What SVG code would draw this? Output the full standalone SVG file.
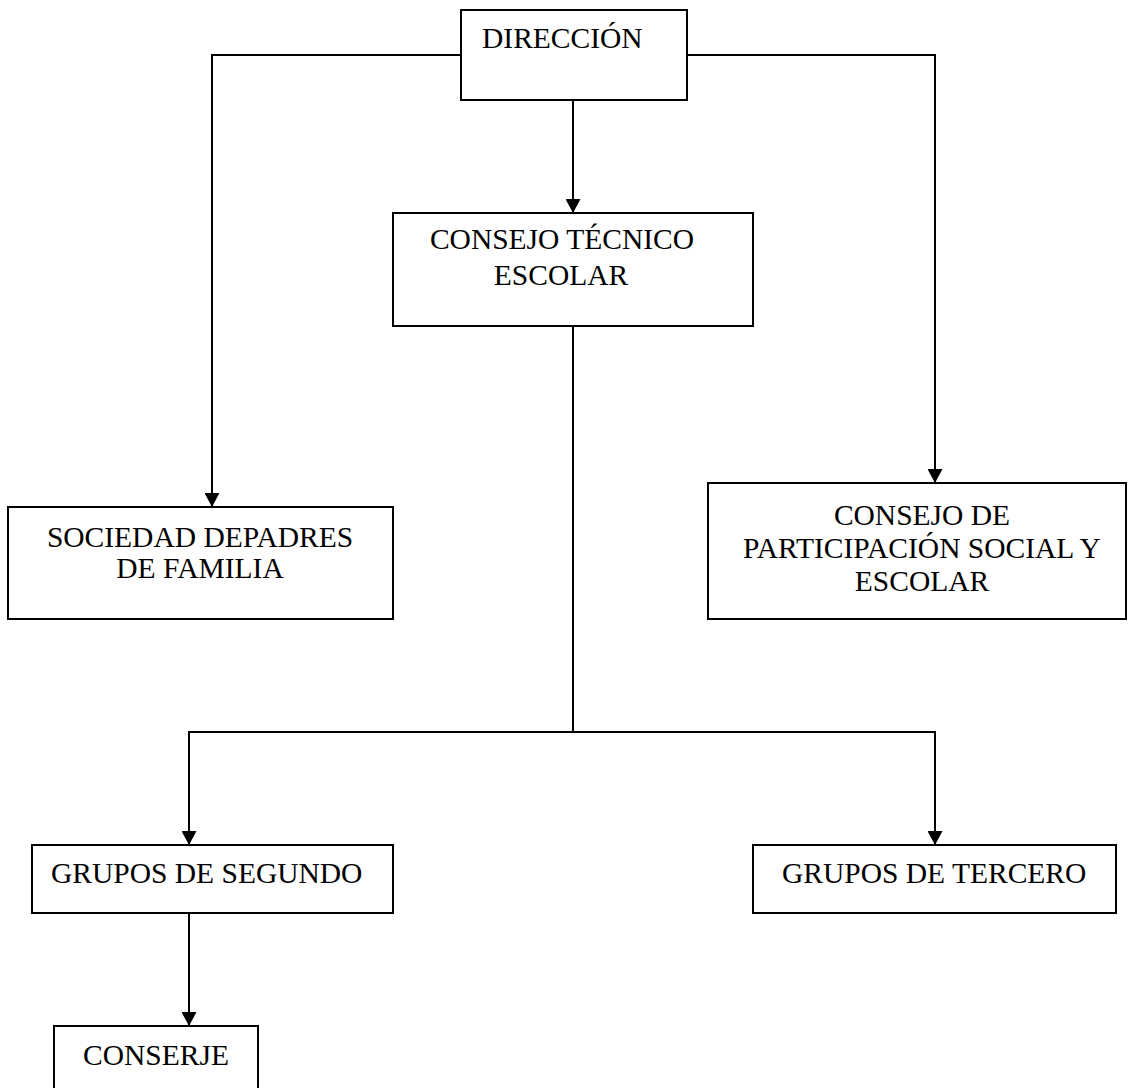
<svg xmlns="http://www.w3.org/2000/svg" width="1128" height="1088" viewBox="0 0 1128 1088">
<style>
  .box{fill:#fff;stroke:#000;stroke-width:2}
  .lbl{font-family:"Liberation Serif","Times New Roman",serif;font-size:29.5px;fill:#000}
  .mid{text-anchor:middle}
  .conn{fill:none;stroke:#000;stroke-width:2}
</style>
<defs>
  <marker id="arr" markerUnits="userSpaceOnUse" markerWidth="15" markerHeight="15" refX="14" refY="7.5" orient="auto">
    <path d="M0,0 L14,7.5 L0,15 z" fill="#000"/>
  </marker>
</defs>
<rect width="1128" height="1088" fill="#fff"/>
<g id="connectors">
  <path class="conn" d="M461,55 H212 V507" marker-end="url(#arr)"/>
  <path class="conn" d="M687,55 H935 V483" marker-end="url(#arr)"/>
  <path class="conn" d="M573,100 V213" marker-end="url(#arr)"/>
  <path class="conn" d="M573,326 V732"/>
  <path class="conn" d="M573,732 H189 V845" marker-end="url(#arr)"/>
  <path class="conn" d="M573,732 H935 V845" marker-end="url(#arr)"/>
  <path class="conn" d="M189,913 V1026" marker-end="url(#arr)"/>
</g>
<g id="direccion">
  <rect class="box" x="461" y="10" width="226" height="90"/>
  <text class="lbl" x="482" y="48">DIRECCIÓN</text>
</g>
<g id="consejo-tecnico">
  <rect class="box" x="393" y="213" width="360" height="113"/>
  <text class="lbl mid" x="562" y="249">CONSEJO TÉCNICO</text>
  <text class="lbl mid" x="561" y="285">ESCOLAR</text>
</g>
<g id="sociedad-padres">
  <rect class="box" x="8" y="507" width="385" height="112"/>
  <text class="lbl mid" x="200" y="547">SOCIEDAD DEPADRES</text>
  <text class="lbl mid" x="200" y="578">DE FAMILIA</text>
</g>
<g id="consejo-participacion">
  <rect class="box" x="708" y="483" width="418" height="136"/>
  <text class="lbl mid" x="922" y="525">CONSEJO DE</text>
  <text class="lbl mid" x="922" y="558">PARTICIPACIÓN SOCIAL Y</text>
  <text class="lbl mid" x="922" y="591">ESCOLAR</text>
</g>
<g id="grupos-segundo">
  <rect class="box" x="32" y="845" width="361" height="68"/>
  <text class="lbl" x="51" y="883">GRUPOS DE SEGUNDO</text>
</g>
<g id="grupos-tercero">
  <rect class="box" x="753" y="845" width="363" height="68"/>
  <text class="lbl" x="782" y="883">GRUPOS DE TERCERO</text>
</g>
<g id="conserje">
  <rect class="box" x="54" y="1026" width="204" height="80"/>
  <text class="lbl mid" x="156" y="1065">CONSERJE</text>
</g>
</svg>
